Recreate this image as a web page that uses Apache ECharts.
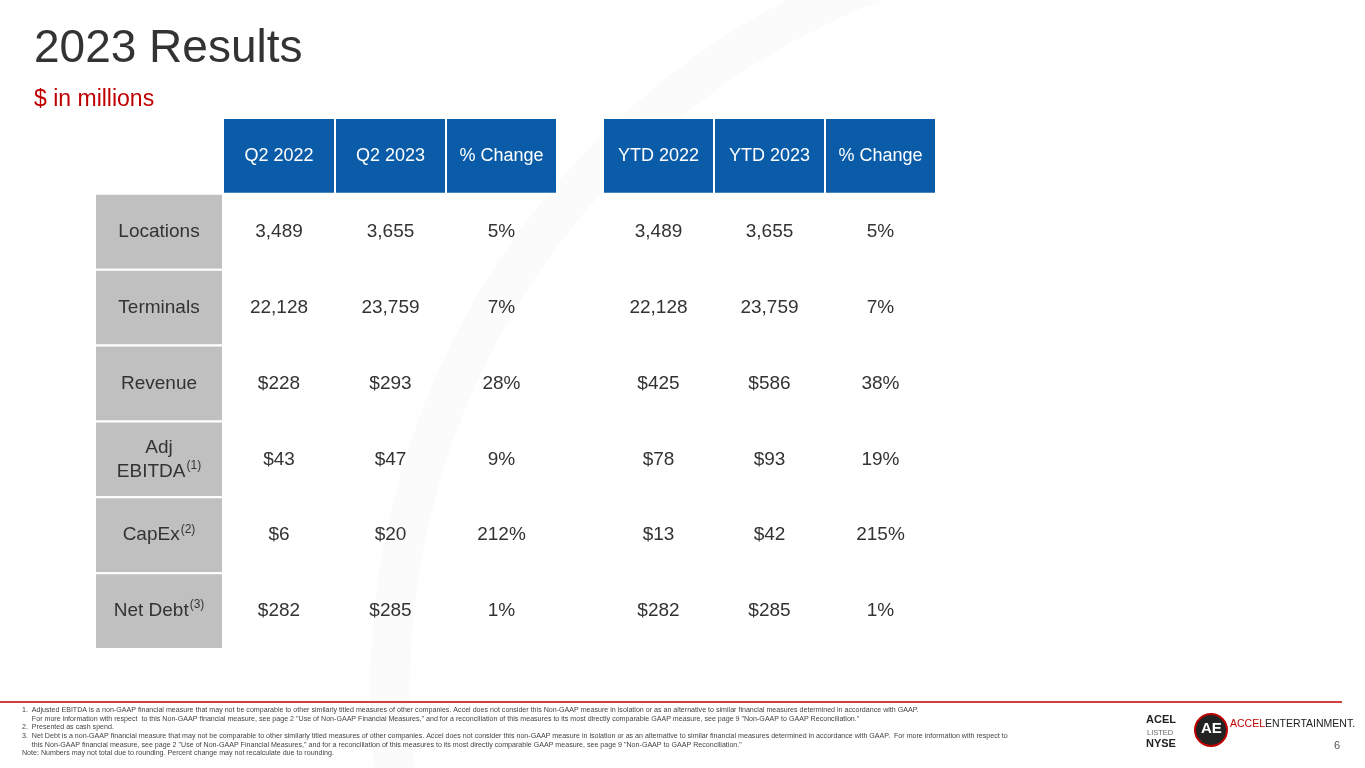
<!DOCTYPE html>
<html>
<head>
<meta charset="UTF-8">
<script src="https://cdn.jsdelivr.net/npm/echarts@6/dist/echarts.min.js"></script>
<style>html,body{margin:0;background:#fff}#main{width:1365px;height:768px}</style>
</head>
<body>
<div id="main"></div>
<script>
var headers = ['', 'Q2 2022', 'Q2 2023', '% Change', '', 'YTD 2022', 'YTD 2023', '% Change'];
var rowLabels = ['Locations', 'Terminals', 'Revenue', 'Adj\nEBITDA{sup|(1)}', 'CapEx{sup|(2)}', 'Net Debt{sup|(3)}'];
var q2_2022 = ['3,489', '22,128', '$228', '$43', '$6', '$282'];
var q2_2023 = ['3,655', '23,759', '$293', '$47', '$20', '$285'];
var q2Change = ['5%', '7%', '28%', '9%', '212%', '1%'];
var ytd2022 = ['3,489', '22,128', '$425', '$78', '$13', '$282'];
var ytd2023 = ['3,655', '23,759', '$586', '$93', '$42', '$285'];
var ytdChange = ['5%', '7%', '38%', '19%', '215%', '1%'];

// layout: column edges in pixels from table left
var colEdges = [0, 128, 240, 351, 462, 508, 619, 730, 841];
var rowCats = ['h', 'r0', 'r1', 'r2', 'r3', 'r4', 'r5'];

var cols = [rowLabels, q2_2022, q2_2023, q2Change, null, ytd2022, ytd2023, ytdChange];
var data = [];
headers.forEach(function (h, c) {
  if (c > 0 && c !== 4) data.push([c, 0, h, 'head']);
});
cols.forEach(function (arr, c) {
  if (!arr) return;
  arr.forEach(function (v, r) { data.push([c, r + 1, v, c === 0 ? 'label' : 'cell']); });
});

var chart = echarts.init(document.getElementById('main'));
chart.setOption({
  animation: false,
  grid: { left: 95, width: 841, top: 118, height: 531 },
  xAxis: { type: 'value', min: 0, max: 841, show: false },
  yAxis: { type: 'category', data: rowCats, inverse: true, show: false },
  graphic: [
    { type: 'circle', shape: { cx: 1150, cy: 690, r: 760 }, style: { fill: 'none', stroke: '#fbfbfb', lineWidth: 40 }, z: -10 },
    { type: 'text', left: 34, top: 26, style: { text: '2023 Results', fontSize: 46, fill: '#333', fontFamily: 'Liberation Sans' } },
    { type: 'text', left: 34, top: 88, style: { text: '$ in millions', fontSize: 23, fill: '#c00000', fontFamily: 'Liberation Sans' } },
    { type: 'line', shape: { x1: 0, y1: 702, x2: 1342, y2: 702 }, style: { stroke: '#c00000', lineWidth: 1.5 } },
    { type: 'text', left: 22, top: 706, style: { fill: '#444', fontSize: 7.1, lineHeight: 8.6, fontFamily: 'Liberation Sans',
      text: '1.  Adjusted EBITDA is a non-GAAP financial measure that may not be comparable to other similarly titled measures of other companies. Accel does not consider this Non-GAAP measure in isolation or as an alternative to similar financial measures determined in accordance with GAAP.\n' +
        '     For more information with respect  to this Non-GAAP financial measure, see page 2 "Use of Non-GAAP Financial Measures," and for a reconciliation of this measures to its most directly comparable GAAP measure, see page 9 "Non-GAAP to GAAP Reconciliation."\n' +
        '2.  Presented as cash spend.\n' +
        '3.  Net Debt is a non-GAAP financial measure that may not be comparable to other similarly titled measures of other companies. Accel does not consider this non-GAAP measure in isolation or as an alternative to similar financial measures determined in accordance with GAAP.  For more information with respect to\n' +
        '     this Non-GAAP financial measure, see page 2 "Use of Non-GAAP Financial Measures," and for a reconciliation of this measures to its most directly comparable GAAP measure, see page 9 "Non-GAAP to GAAP Reconciliation."\n' +
        'Note: Numbers may not total due to rounding. Percent change may not recalculate due to rounding.' } },
    { type: 'text', left: 1146, top: 714, style: { text: 'ACEL', fontSize: 11, fontWeight: 'bold', fill: '#222', fontFamily: 'Liberation Sans' } },
    { type: 'text', left: 1147, top: 729, style: { text: 'LISTED', fontSize: 7.5, fill: '#666', fontFamily: 'Liberation Sans' } },
    { type: 'text', left: 1146, top: 738, style: { text: 'NYSE', fontSize: 11, fontWeight: 'bold', fill: '#222', fontFamily: 'Liberation Sans' } },
    { type: 'circle', shape: { cx: 1211, cy: 730, r: 16 }, style: { fill: '#222', stroke: '#c00000', lineWidth: 2 } },
    { type: 'text', left: 1201, top: 721, style: { text: 'AE', fontSize: 15, fontWeight: 'bold', fill: '#fff', fontFamily: 'Liberation Sans' } },
    { type: 'text', left: 1230, top: 719, style: { text: '{r|ACCEL}{k|ENTERTAINMENT.}', rich: { r: { fill: '#c00000', fontSize: 10.5, fontFamily: 'Liberation Sans' }, k: { fill: '#222', fontSize: 10.5, fontFamily: 'Liberation Sans' } } } },
    { type: 'text', left: 1334, top: 740, style: { text: '6', fontSize: 11, fill: '#555', fontFamily: 'Liberation Sans' } }
  ],
  series: [{
    type: 'custom',
    data: data,
    renderItem: function (params, api) {
      var c = api.value(0), r = api.value(1);
      var kind = data[params.dataIndex][3];
      var text = data[params.dataIndex][2];
      var p0 = api.coord([colEdges[c], r]);
      var p1 = api.coord([colEdges[c + 1], r]);
      var h = api.size([0, 1])[1];
      var x = p0[0], y = p0[1] - h / 2, w = p1[0] - p0[0];
      var fill = kind === 'head' ? '#0a5ca8' : kind === 'label' ? '#c0c0c0' : 'rgba(0,0,0,0)';
      var color = kind === 'head' ? '#fff' : '#333';
      return {
        type: 'group',
        children: [
          { type: 'rect', shape: { x: x, y: y, width: w, height: h }, style: { fill: fill, stroke: kind === 'cell' ? 'none' : '#fff', lineWidth: 2 } },
          { type: 'text', x: x + w / 2, y: y + h / 2, style: {
            text: text, align: 'center', verticalAlign: 'middle', fill: color,
            fontSize: kind === 'head' ? 18 : 19, fontFamily: 'Liberation Sans', lineHeight: 24,
            letterSpacing: kind === 'cell' ? 0 : 0.8,
            rich: { sup: { fontSize: 12, verticalAlign: 'top', padding: [0, 0, 14, 1], fill: color } }
          } }
        ]
      };
    }
  }]
});
</script>
</body>
</html>
